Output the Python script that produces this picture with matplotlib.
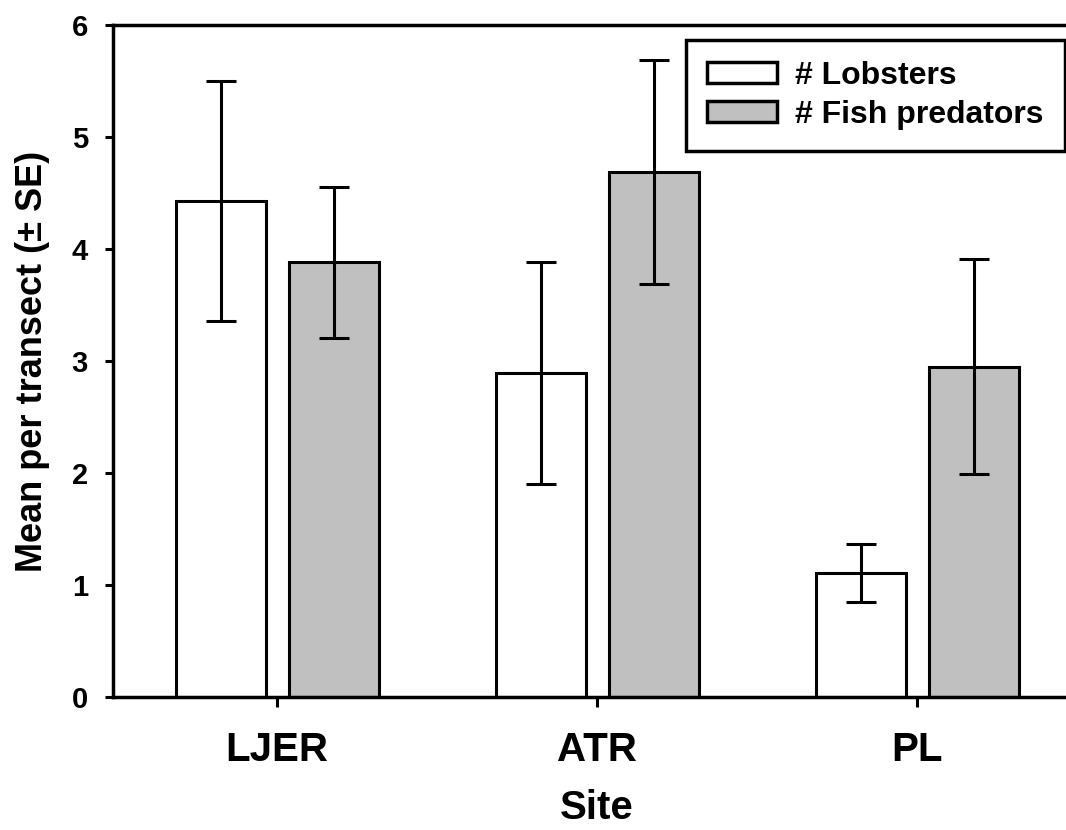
import matplotlib.pyplot as plt
import numpy as np

plt.rcParams['font.family'] = ['Liberation Sans', 'DejaVu Sans']
plt.rcParams['font.weight'] = 'bold'

sites = ['LJER', 'ATR', 'PL']
lobsters = [4.43, 2.89, 1.11]
lobsters_se = [1.07, 0.99, 0.26]
fish = [3.88, 4.69, 2.95]
fish_se = [0.67, 1.00, 0.96]

fig = plt.figure(figsize=(10.66, 8.3), dpi=100)
ax = fig.add_axes([0.106, 0.1602, 0.908, 0.8096])

x = np.arange(len(sites))
w = 0.281
err_kw = dict(ecolor='black', elinewidth=2.2, capsize=11, capthick=2.2)

ax.bar(x - 0.176, lobsters, w, yerr=lobsters_se, color='white',
       edgecolor='black', linewidth=2.2, error_kw=err_kw, label='# Lobsters')
ax.bar(x + 0.177, fish, w, yerr=fish_se, color='#c0c0c0',
       edgecolor='black', linewidth=2.2, error_kw=err_kw, label='# Fish predators')

ax.set_xlim(-0.5125, 2.5125)
ax.set_ylim(0, 6)
ax.set_xticks(x)
ax.set_xticklabels(sites, fontsize=29, fontweight='bold')
ax.set_yticks(range(0, 7))
ax.set_yticklabels([str(v) for v in range(0, 7)], fontsize=21, fontweight='bold')
ax.tick_params(axis='y', direction='out', length=6, width=2.2, pad=12)
ax.tick_params(axis='x', direction='out', length=7.5, width=2.2, pad=17)

ax.spines['right'].set_visible(False)
for s in ['left', 'bottom', 'top']:
    ax.spines[s].set_linewidth(2.5)

ax.set_xlabel('Site', fontsize=29, fontweight='bold', labelpad=14)
ax.set_ylabel('Mean per transect (± SE)', fontsize=26, fontweight='bold', labelpad=16)

leg = ax.legend(loc='upper left', bbox_to_anchor=(686 / 1066, 1 - 40 / 830),
                bbox_transform=fig.transFigure,
                fontsize=23, frameon=True, fancybox=False, handlelength=2.2,
                handleheight=0.62, borderpad=0.66, labelspacing=0.28,
                handletextpad=0.55, borderaxespad=0)
leg.get_frame().set_edgecolor('black')
leg.get_frame().set_linewidth(2.5)
leg.get_frame().set_alpha(1)
for h in leg.legend_handles:
    h.set_linewidth(2.5)
for t in leg.get_texts():
    t.set_fontweight('bold')

fig.savefig('out.png', dpi=100)
